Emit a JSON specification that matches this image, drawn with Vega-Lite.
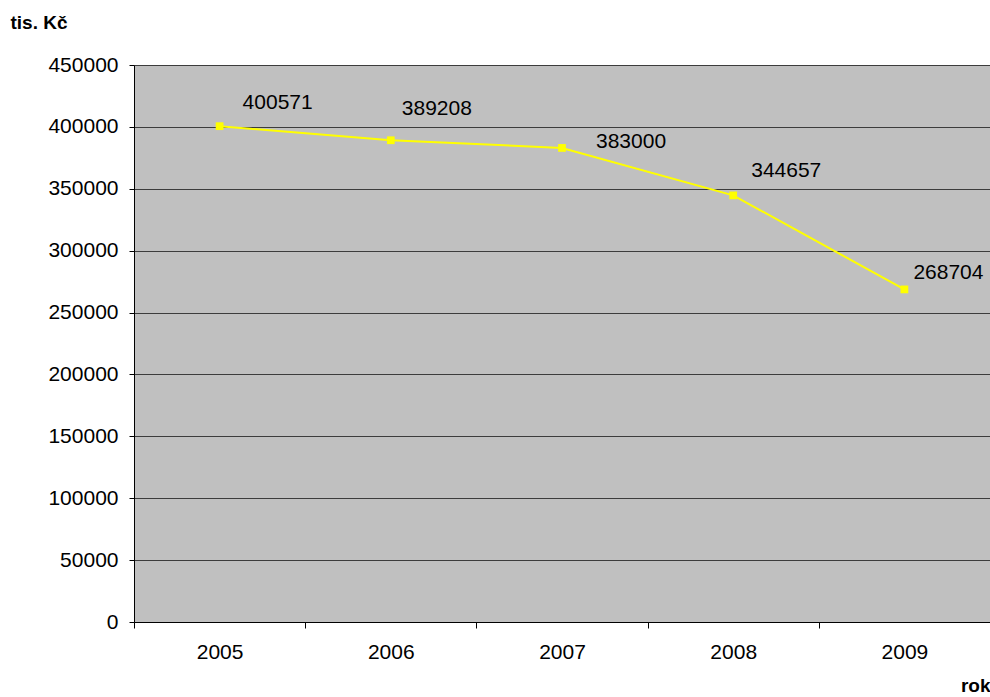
{
  "$schema": "https://vega.github.io/schema/vega-lite/v6.json",
  "width": 856,
  "height": 557,
  "autosize": {"type": "none"},
  "padding": {"left": 134, "top": 65, "right": 0, "bottom": 75},
  "background": "white",
  "config": {
    "font": "Liberation Sans",
    "view": {"fill": "#c0c0c0", "stroke": null},
    "axis": {
      "labelFont": "Liberation Sans",
      "labelFontSize": 21,
      "labelColor": "#000000",
      "domainColor": "#000000",
      "domainWidth": 1,
      "tickColor": "#000000",
      "tickWidth": 1,
      "titleFont": "Liberation Sans",
      "titleColor": "#000000",
      "titleFontWeight": "bold",
      "titleFontSize": 19
    }
  },
  "data": {
    "values": [
      {"rok": "2005", "hodnota": 400571},
      {"rok": "2006", "hodnota": 389208},
      {"rok": "2007", "hodnota": 383000},
      {"rok": "2008", "hodnota": 344657},
      {"rok": "2009", "hodnota": 268704}
    ]
  },
  "encoding": {
    "x": {
      "field": "rok",
      "type": "ordinal",
      "bandPosition": 0.5,
      "scale": {"type": "band", "paddingInner": 0, "paddingOuter": 0},
      "axis": {
        "title": "rok",
        "labelAngle": 0,
        "tickBand": "extent",
        "tickSize": 6,
        "labelPadding": 13,
        "grid": false,
        "titleAnchor": "end",
        "titleAlign": "right",
        "titleBaseline": "alphabetic",
        "titleX": 856,
        "titleY": 69
      }
    },
    "y": {
      "field": "hodnota",
      "type": "quantitative",
      "scale": {"domain": [0, 450000], "nice": false},
      "axis": {
        "title": "tis. Kč",
        "values": [0, 50000, 100000, 150000, 200000, 250000, 300000, 350000, 400000, 450000],
        "format": "d",
        "tickSize": 5,
        "labelPadding": 11,
        "grid": true,
        "gridColor": "#3c3c3c",
        "gridWidth": 1,
        "titleAngle": 0,
        "titleAlign": "left",
        "titleBaseline": "alphabetic",
        "titleX": -124,
        "titleY": -37
      }
    }
  },
  "layer": [
    {"mark": {"type": "line", "color": "#ffff00", "strokeWidth": 2}},
    {"mark": {"type": "square", "color": "#ffff00", "opacity": 1, "size": 60, "filled": true}},
    {
      "transform": [{"filter": "datum.rok == '2005'"}],
      "mark": {"type": "text", "align": "left", "baseline": "middle", "fontSize": 21, "color": "#000000", "dx": 23, "dy": -23},
      "encoding": {"text": {"field": "hodnota", "type": "quantitative", "format": "d"}}
    },
    {
      "transform": [{"filter": "datum.rok == '2006'"}],
      "mark": {"type": "text", "align": "left", "baseline": "middle", "fontSize": 21, "color": "#000000", "dx": 11, "dy": -31},
      "encoding": {"text": {"field": "hodnota", "type": "quantitative", "format": "d"}}
    },
    {
      "transform": [{"filter": "datum.rok == '2007'"}],
      "mark": {"type": "text", "align": "left", "baseline": "middle", "fontSize": 21, "color": "#000000", "dx": 34, "dy": -6},
      "encoding": {"text": {"field": "hodnota", "type": "quantitative", "format": "d"}}
    },
    {
      "transform": [{"filter": "datum.rok == '2008'"}],
      "mark": {"type": "text", "align": "left", "baseline": "middle", "fontSize": 21, "color": "#000000", "dx": 18, "dy": -24},
      "encoding": {"text": {"field": "hodnota", "type": "quantitative", "format": "d"}}
    },
    {
      "transform": [{"filter": "datum.rok == '2009'"}],
      "mark": {"type": "text", "align": "left", "baseline": "middle", "fontSize": 21, "color": "#000000", "dx": 9, "dy": -16},
      "encoding": {"text": {"field": "hodnota", "type": "quantitative", "format": "d"}}
    }
  ]
}
